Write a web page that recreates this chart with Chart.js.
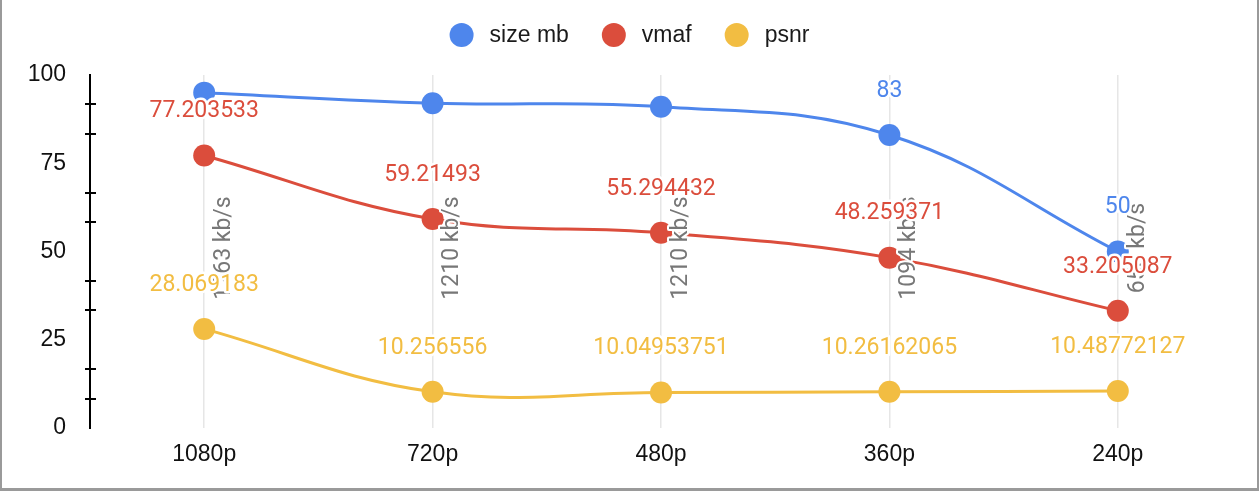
<!DOCTYPE html>
<html>
<head>
<meta charset="utf-8">
<script src="https://cdn.jsdelivr.net/npm/chart.js@4"></script>
<style>
  html, body { margin: 0; padding: 0; background: #fff; }
  #wrap { position: absolute; left: 0; top: 0; width: 1259px; height: 491px; box-sizing: border-box;
          border-left: 2px solid #9a9a9a; border-right: 2px solid #9a9a9a; border-bottom: 3px solid #9a9a9a; background:#fff; }
  canvas { display: block; }
</style>
</head>
<body>
<div id="wrap"><canvas id="c" width="1255" height="488"></canvas></div>
<script>
// ---- data ----
const categories = ['1080p', '720p', '480p', '360p', '240p'];
const sizeMb = [95, 92, 91, 83, 50];
const vmaf = [77.203533, 59.21493, 55.294432, 48.259371, 33.205087];
const psnr = [28.069183, 10.256556, 10.04953751, 10.26162065, 10.48772127];
const sizeLabelShown = [false, false, false, true, true];
const vmafLabelShown = [true, true, true, true, true];
const psnrLabelShown = [true, true, true, true, true];
const vmafLabels = ['77.203533', '59.21493', '55.294432', '48.259371', '33.205087'];
const psnrLabels = ['28.069183', '10.256556', '10.04953751', '10.26162065', '10.48772127'];
const sizeLabels = ['95', '92', '91', '83', '50'];
const bitrateLabels = ['1263 kb/s', '1210 kb/s', '1210 kb/s', '1094 kb/s', '658 kb/s'];
const yTicks = [0, 25, 50, 75, 100];
const yMinorTicks = [8.333, 16.667, 33.333, 41.667, 58.333, 66.667, 83.333, 91.667];

const BLUE = '#4e86ec', RED = '#db4d3c', YELLOW = '#f2bd42';
const AXIS_FONT = '"Liberation Sans", Arial, sans-serif';

const datasets = [
  { label: 'size mb', data: sizeMb, color: BLUE, shown: sizeLabelShown, texts: sizeLabels },
  { label: 'vmaf', data: vmaf, color: RED, shown: vmafLabelShown, texts: vmafLabels },
  { label: 'psnr', data: psnr, color: YELLOW, shown: psnrLabelShown, texts: psnrLabels },
].map(d => ({
  label: d.label, data: d.data,
  borderColor: d.color, backgroundColor: d.color,
  pointBackgroundColor: d.color, pointBorderWidth: 0,
  pointRadius: 11, pointHoverRadius: 11,
  borderWidth: 3, tension: 0.4, fill: false,
  _shown: d.shown, _texts: d.texts
}));

const labelPlugin = {
  id: 'labels',
  afterDatasetsDraw(chart) {
    const ctx = chart.ctx;
    const xs = chart.scales.x, ys = chart.scales.y;
    // rotated bitrate annotations
    ctx.save();
    ctx.font = '23px Roboto';
    ctx.textAlign = 'center';
    ctx.textBaseline = 'middle';
    ctx.lineJoin = 'round';
    bitrateLabels.forEach((t, i) => {
      const x = xs.getPixelForValue(i) + 20;
      const y = ys.getPixelForValue(51);
      ctx.save();
      ctx.translate(x, y);
      ctx.rotate(-Math.PI / 2);
      ctx.strokeStyle = '#fff';
      ctx.lineWidth = 4;
      ctx.strokeText(t, 0, 0);
      ctx.fillStyle = '#777';
      ctx.fillText(t, 0, 0);
      ctx.restore();
    });
    ctx.restore();
    // point value labels
    ctx.save();
    ctx.font = '23px Roboto';
    ctx.textAlign = 'center';
    ctx.textBaseline = 'middle';
    ctx.lineJoin = 'round';
    chart.data.datasets.forEach((ds, di) => {
      const meta = chart.getDatasetMeta(di);
      meta.data.forEach((pt, i) => {
        if (!ds._shown[i]) return;
        const t = ds._texts[i];
        ctx.strokeStyle = '#fff';
        ctx.lineWidth = 5;
        ctx.strokeText(t, pt.x, pt.y - 44);
        ctx.fillStyle = ds.borderColor;
        ctx.fillText(t, pt.x, pt.y - 44);
      });
    });
    ctx.restore();
  },
  afterDraw(chart) {
    const ctx = chart.ctx;
    const ys = chart.scales.y;
    const left = chart.chartArea.left;
    // minor tick marks on y axis
    ctx.save();
    ctx.strokeStyle = '#000';
    ctx.lineWidth = 2;
    yMinorTicks.forEach(v => {
      const y = Math.round(ys.getPixelForValue(v));
      ctx.beginPath();
      ctx.moveTo(left - 5, y);
      ctx.lineTo(left + 6, y);
      ctx.stroke();
    });
    ctx.restore();
    // legend
    ctx.save();
    ctx.font = '23px ' + AXIS_FONT;
    ctx.textBaseline = 'middle';
    const r = 12, gapText = 16, gapItem = 33;
    const items = chart.data.datasets.map(ds => ({ text: ds.label, color: ds.borderColor, w: ctx.measureText(ds.label).width }));
    let total = 0;
    items.forEach((it, i) => { total += 2 * r + gapText + it.w + (i < items.length - 1 ? gapItem : 0); });
    let x = chart.width / 2 - total / 2;
    const cy = 35;
    items.forEach(it => {
      ctx.fillStyle = it.color;
      ctx.beginPath();
      ctx.arc(x + r, cy, r, 0, Math.PI * 2);
      ctx.fill();
      ctx.fillStyle = '#1a1a1a';
      ctx.fillText(it.text, x + 2 * r + gapText, cy + 1);
      x += 2 * r + gapText + it.w + gapItem;
    });
    ctx.restore();
  }
};

new Chart(document.getElementById('c'), {
  type: 'line',
  data: { labels: categories, datasets },
  options: {
    responsive: false,
    animation: false,
    devicePixelRatio: 1,
    layout: { padding: { top: 75, right: 25, left: 0, bottom: 0 } },
    plugins: { legend: { display: false }, tooltip: { enabled: false } },
    events: [],
    scales: {
      x: {
        type: 'category',
        offset: true,
        grid: { display: true, offset: false, color: '#e6e6e6', lineWidth: 1.5, drawTicks: false },
        border: { display: false },
        ticks: { color: '#111', font: { size: 23, family: AXIS_FONT }, padding: 13 },
        afterFit: s => { s.height = 60; }
      },
      y: {
        min: 0, max: 100,
        afterBuildTicks: s => { s.ticks = yTicks.map(v => ({ value: v })); },
        grid: { display: false, drawTicks: false },
        border: { display: true, color: '#000', width: 2 },
        ticks: { color: '#111', font: { size: 23, family: AXIS_FONT }, padding: 24 },
        afterFit: s => { s.width = 88; }
      }
    }
  },
  plugins: [labelPlugin]
});
</script>
</body>
</html>
